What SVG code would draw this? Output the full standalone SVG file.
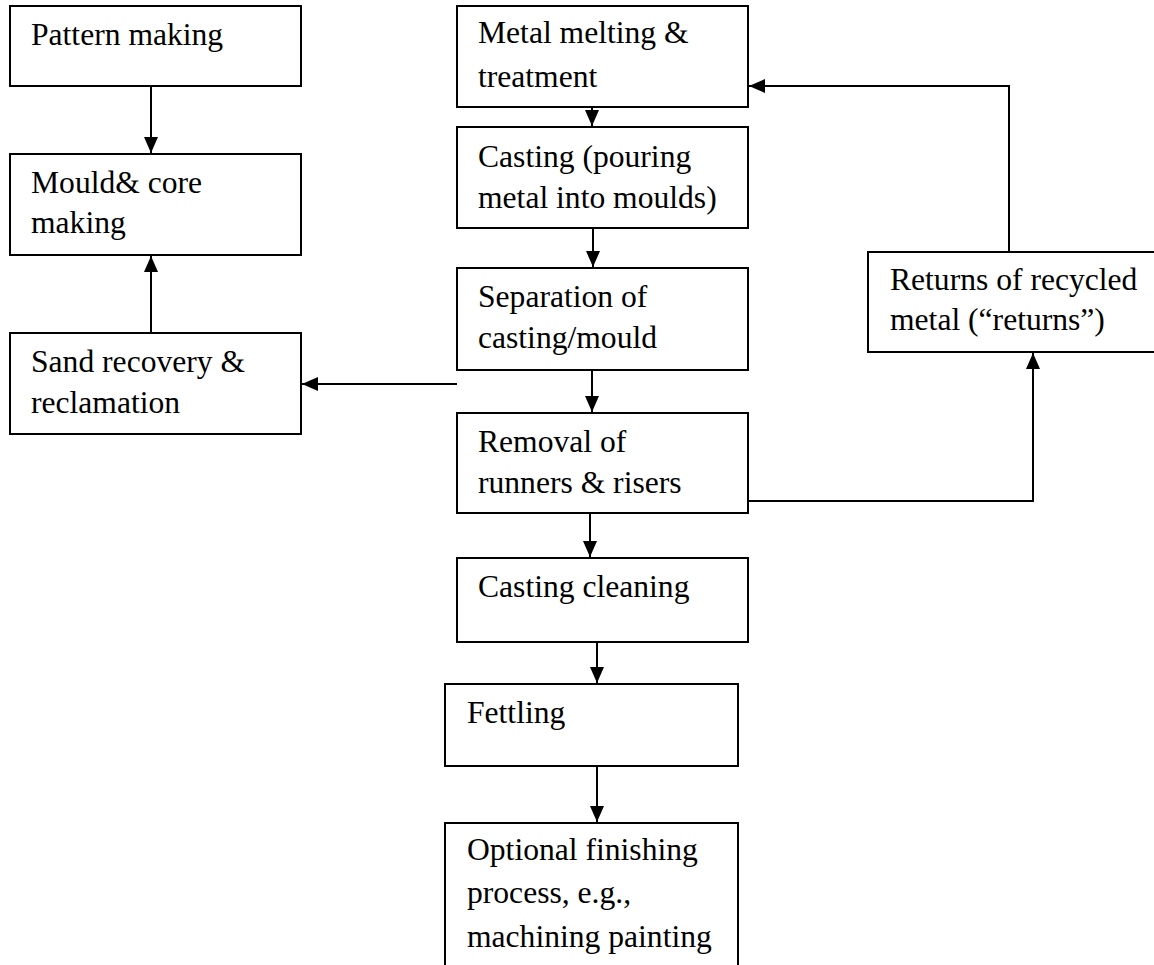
<svg xmlns="http://www.w3.org/2000/svg" width="1154" height="965" viewBox="0 0 1154 965">
<defs>
<style>
.box{fill:#fff;stroke:#000;stroke-width:2}
.t{font-family:"Liberation Serif","Times New Roman",serif;font-size:31.6px;fill:#000}
.c{fill:none;stroke:#000;stroke-width:2}
</style>
<marker id="a" viewBox="0 0 16 14" refX="16" refY="7" markerWidth="16" markerHeight="14" markerUnits="userSpaceOnUse" orient="auto">
<path d="M0,0 L16,7 L0,14 z" fill="#000"/>
</marker>
</defs>
<rect width="1154" height="965" fill="#fff"/>
<g id="connectors">
<line class="c" x1="151" y1="86" x2="151" y2="153" marker-end="url(#a)"/>
<line class="c" x1="151" y1="333" x2="151" y2="256" marker-end="url(#a)"/>
<line class="c" x1="457" y1="384" x2="302" y2="384" marker-end="url(#a)"/>
<line class="c" x1="592" y1="107" x2="592" y2="126" marker-end="url(#a)"/>
<line class="c" x1="593" y1="226" x2="593" y2="267" marker-end="url(#a)"/>
<line class="c" x1="592" y1="370" x2="592" y2="412" marker-end="url(#a)"/>
<line class="c" x1="590" y1="513" x2="590" y2="557" marker-end="url(#a)"/>
<line class="c" x1="597" y1="642" x2="597" y2="683" marker-end="url(#a)"/>
<line class="c" x1="597" y1="766" x2="597" y2="822" marker-end="url(#a)"/>
<polyline class="c" points="1009,252 1009,86 749,86" marker-end="url(#a)"/>
<polyline class="c" points="748,501 1033,501 1033,353" marker-end="url(#a)"/>
</g>
<g id="pattern"><rect class="box" x="10" y="6" width="291" height="80"/><text class="t" x="31" y="45">Pattern making</text></g>
<g id="mould"><rect class="box" x="10" y="154" width="291" height="101"/><text class="t" x="31" y="193">Mould&amp; core</text><text class="t" x="31" y="233">making</text></g>
<g id="sand"><rect class="box" x="10" y="333" width="291" height="101"/><text class="t" x="31" y="372">Sand recovery &amp;</text><text class="t" x="31" y="413">reclamation</text></g>
<g id="melting"><rect class="box" x="457" y="6" width="291" height="101"/><text class="t" x="478" y="43">Metal melting &amp;</text><text class="t" x="478" y="87">treatment</text></g>
<g id="casting"><rect class="box" x="457" y="127" width="291" height="101"/><text class="t" x="478" y="167">Casting (pouring</text><text class="t" x="478" y="208">metal into moulds)</text></g>
<g id="separation"><rect class="box" x="457" y="268" width="291" height="102"/><text class="t" x="478" y="307">Separation of</text><text class="t" x="478" y="348">casting/mould</text></g>
<g id="removal"><rect class="box" x="457" y="413" width="291" height="100"/><text class="t" x="478" y="452">Removal of</text><text class="t" x="478" y="493">runners &amp; risers</text></g>
<g id="cleaning"><rect class="box" x="457" y="558" width="291" height="84"/><text class="t" x="478" y="597">Casting cleaning</text></g>
<g id="fettling"><rect class="box" x="445" y="684" width="293" height="82"/><text class="t" x="467" y="723">Fettling</text></g>
<g id="optional"><path class="box" d="M445,965 L445,823 L738,823 L738,965"/><text class="t" x="467" y="860">Optional finishing</text><text class="t" x="467" y="903">process, e.g.,</text><text class="t" x="467" y="947">machining painting</text></g>
<g id="returns"><rect class="box" x="868" y="252" width="300" height="100"/><text class="t" x="890" y="290">Returns of recycled</text><text class="t" x="890" y="330">metal (“returns”)</text></g>
</svg>
